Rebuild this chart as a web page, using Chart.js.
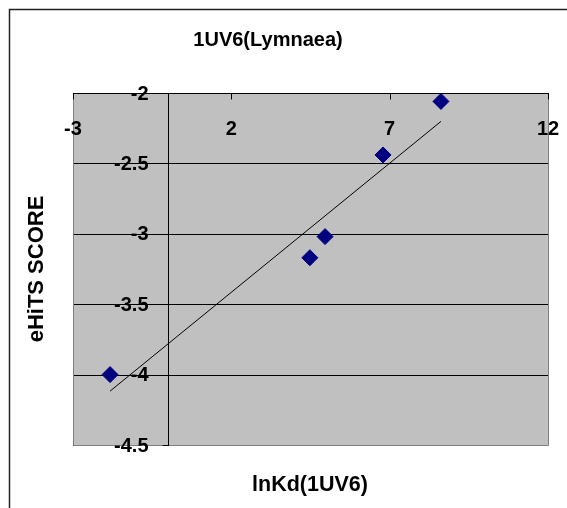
<!DOCTYPE html>
<html lang="en">
<head>
<meta charset="UTF-8">
<title>1UV6(Lymnaea)</title>
<script src="https://cdn.jsdelivr.net/npm/chart.js"></script>
<style>
    html, body { margin: 0; padding: 0; background: #fff; }
</style>
</head>
<body>
<canvas id="chart" width="567" height="508"></canvas>
<script>
// values
const lnKd = [-1.83, 4.48, 4.96, 6.79, 8.62];
const ehitsScore = [-4.00, -3.17, -3.02, -2.44, -2.06];
const xTicks = [-3, 2, 7, 12];
const yTicks = [-2, -2.5, -3, -3.5, -4, -4.5];

const chartTitle = '1UV6(Lymnaea)';
const xTitle = 'lnKd(1UV6)';
const yTitle = 'eHiTS SCORE';

// linear trendline (least squares, like Excel)
const n = lnKd.length;
const mx = lnKd.reduce((a, b) => a + b, 0) / n;
const my = ehitsScore.reduce((a, b) => a + b, 0) / n;
let sxy = 0, sxx = 0;
for (let i = 0; i < n; i++) {
    sxy += (lnKd[i] - mx) * (ehitsScore[i] - my);
    sxx += (lnKd[i] - mx) * (lnKd[i] - mx);
}
const slope = sxy / sxx;
const icept = my - slope * mx;
const xLo = Math.min(...lnKd), xHi = Math.max(...lnKd);

const points = lnKd.map((x, i) => ({ x: x, y: ehitsScore[i] }));
const trend = [
    { x: xLo, y: icept + slope * xLo },
    { x: xHi, y: icept + slope * xHi }
];

const FAMILY = '"Liberation Sans", Arial, sans-serif';

const excelFrame = {
    id: 'excelFrame',
    beforeDatasetsDraw(chart) {
        const ctx = chart.ctx;
        const a = chart.chartArea;
        const xs = chart.scales.x, ys = chart.scales.y;
        ctx.save();
        // white page and outer chart border
        ctx.fillStyle = '#fff';
        ctx.fillRect(0, 0, chart.width, chart.height);
        ctx.strokeStyle = '#222';
        ctx.lineWidth = 1.5;
        ctx.strokeRect(9.5, 9.5, 600, 600);

        // plot area
        ctx.fillStyle = '#c0c0c0';
        ctx.fillRect(a.left, a.top, a.right - a.left, a.bottom - a.top);

        // horizontal gridlines
        ctx.strokeStyle = '#000';
        ctx.lineWidth = 1;
        yTicks.forEach(v => {
            const py = Math.round(ys.getPixelForValue(v)) + 0.5;
            ctx.beginPath();
            ctx.moveTo(a.left, py);
            ctx.lineTo(a.right, py);
            ctx.stroke();
        });

        // plot border (left, right, bottom)
        ctx.strokeStyle = '#808080';
        ctx.beginPath();
        ctx.moveTo(a.left + 0.5, a.top);
        ctx.lineTo(a.left + 0.5, a.bottom + 0.5);
        ctx.lineTo(a.right + 0.5, a.bottom + 0.5);
        ctx.lineTo(a.right + 0.5, a.top);
        ctx.stroke();

        // x axis crosses at y = -2, y axis crosses at x = 0
        const axY = Math.round(ys.getPixelForValue(-2)) + 0.5;
        const axX = Math.round(xs.getPixelForValue(0)) + 0.5;
        ctx.strokeStyle = '#000';
        ctx.beginPath();
        ctx.moveTo(a.left, axY);
        ctx.lineTo(a.right + 1, axY);
        ctx.moveTo(axX, a.top);
        ctx.lineTo(axX, a.bottom + 1);
        ctx.stroke();

        // tick marks
        ctx.beginPath();
        xTicks.forEach(v => {
            const px = Math.round(xs.getPixelForValue(v)) + 0.5;
            ctx.moveTo(px, axY);
            ctx.lineTo(px, axY + 6);
        });
        yTicks.forEach(v => {
            const py = Math.round(ys.getPixelForValue(v)) + 0.5;
            ctx.moveTo(axX, py);
            ctx.lineTo(axX - 6, py);
        });
        ctx.stroke();

        // tick labels
        ctx.fillStyle = '#000';
        ctx.font = 'bold 20px ' + FAMILY;
        ctx.textAlign = 'center';
        ctx.textBaseline = 'middle';
        xTicks.forEach(v => {
            ctx.fillText(String(v), xs.getPixelForValue(v), axY + 36);
        });
        ctx.textAlign = 'right';
        yTicks.forEach(v => {
            ctx.fillText(String(v), axX - 20, ys.getPixelForValue(v) + 1);
        });

        // titles
        ctx.textAlign = 'center';
        ctx.fillText(chartTitle, 268, 40);
        ctx.font = 'bold 21.5px ' + FAMILY;
        ctx.fillText(xTitle, 310, 485);
        ctx.font = 'bold 22px ' + FAMILY;
        ctx.translate(37, 269);
        ctx.rotate(-Math.PI / 2);
        ctx.fillText(yTitle, 0, 0);
        ctx.restore();
    }
};

new Chart(document.getElementById('chart'), {
    type: 'scatter',
    data: {
        datasets: [
            {
                label: 'eHiTS',
                data: points,
                pointStyle: 'rectRot',
                pointRadius: 8,
                backgroundColor: '#000080',
                borderColor: '#000080',
                borderWidth: 1,
                showLine: false
            },
            {
                label: 'Linear',
                type: 'line',
                data: trend,
                borderColor: '#000',
                borderWidth: 1,
                pointRadius: 0,
                fill: false
            }
        ]
    },
    options: {
        responsive: false,
        animation: false,
        layout: { padding: { left: 73, top: 93, right: 19, bottom: 63 } },
        plugins: { legend: { display: false }, tooltip: { enabled: false } },
        scales: {
            x: { type: 'linear', display: false, min: -3, max: 12 },
            y: { type: 'linear', display: false, min: -4.5, max: -2 }
        }
    },
    plugins: [excelFrame]
});
</script>
</body>
</html>
